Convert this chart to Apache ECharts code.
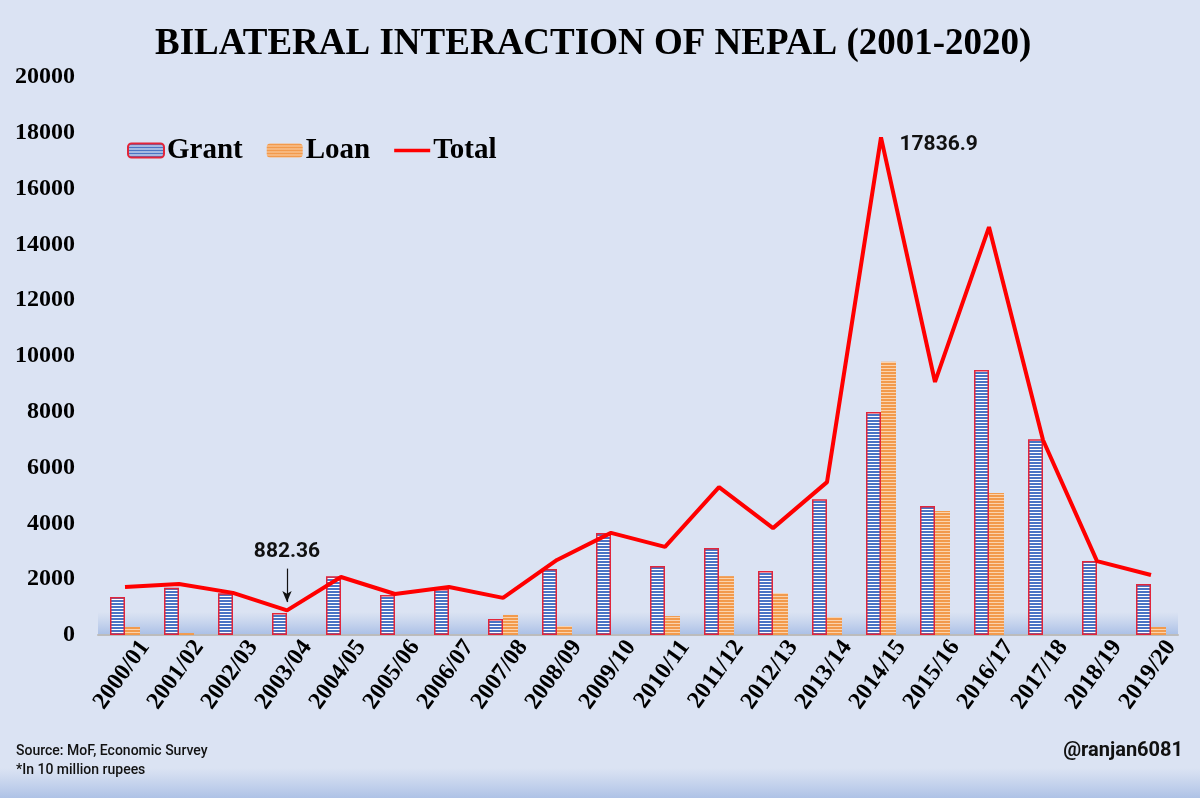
<!DOCTYPE html>
<html>
<head>
<meta charset="utf-8">
<script src="https://cdn.jsdelivr.net/npm/echarts@6/dist/echarts.min.js"></script>
<style>
  html, body { margin: 0; padding: 0; background: #dbe3f3; }
  #main { width: 1200px; height: 798px; }
</style>
</head>
<body>
<div id="main"></div>
<script>
// fiscal years
var years = ['2000/01', '2001/02', '2002/03', '2003/04', '2004/05', '2005/06', '2006/07', '2007/08', '2008/09', '2009/10',
  '2010/11', '2011/12', '2012/13', '2013/14', '2014/15', '2015/16', '2016/17', '2017/18', '2018/19', '2019/20'];
// in 10 million rupees
var grant = [1360, 1690, 1500, 790, 2110, 1430, 1650, 570, 2370, 3660, 2470, 3120, 2290, 4870, 7990, 4620, 9500, 7020, 2650, 1830];
var loan = [290, 70, 0, 0, 0, 0, 0, 720, 320, 0, 680, 2110, 1500, 640, 9790, 4440, 5090, 0, 0, 290];
var total = [1720, 1830, 1510, 882.36, 2080, 1470, 1720, 1330, 2690, 3660, 3160, 5300, 3830, 5480, 17836.9, 9070, 14620, 6990, 2650, 2150];

function stripes(bg, line) {
  var c = document.createElement('canvas');
  c.width = 4; c.height = 3;
  var ctx = c.getContext('2d');
  ctx.fillStyle = bg;
  ctx.fillRect(0, 0, 4, 3);
  ctx.fillStyle = line;
  ctx.fillRect(0, 0, 4, 2);
  return c;
}
var grantFill = { image: stripes('#ffffff', '#4a74c4'), repeat: 'repeat' };
var loanFill = { image: stripes('#fbd3ad', '#f29a4c'), repeat: 'repeat' };

var chart = echarts.init(document.getElementById('main'));

var option = {
  backgroundColor: '#dbe3f3',
  animation: false,
  title: {
    text: 'BILATERAL INTERACTION OF NEPAL (2001-2020)',
    left: 150,
    top: 21,
    textStyle: {
      fontFamily: 'Liberation Serif',
      fontWeight: 'bold',
      fontSize: 37,
      color: '#000'
    }
  },
  legend: {
    left: 122,
    top: 131,
    itemWidth: 36,
    itemHeight: 14,
    itemGap: 24,
    textStyle: {
      fontFamily: 'Liberation Serif',
      fontWeight: 'bold',
      fontSize: 29,
      color: '#000',
      padding: [0, 0, 0, -2]
    },
    data: ['Grant', 'Loan', { name: 'Total', icon: 'path://M0 0H40V4H0z' }]
  },
  grid: [
    { left: 98, right: 22, top: 77, bottom: 163 },
    // same scale shifted right, only carries the slanted year labels
    { left: 118, right: 2, top: 77, bottom: 163 }
  ],
  xAxis: [
    {
      type: 'category',
      data: years,
      axisLine: { lineStyle: { color: '#bcbcbc', width: 2 } },
      axisTick: { show: false },
      axisLabel: { show: false }
    },
    {
      type: 'category',
      gridIndex: 1,
      data: years,
      axisLine: { show: false },
      axisTick: { show: false },
      axisLabel: {
        rotate: 54,
        margin: 8,
        fontFamily: 'Liberation Serif',
        fontWeight: 'bold',
        fontSize: 24,
        color: '#000'
      }
    }
  ],
  yAxis: [
    {
      type: 'value',
      min: 0,
      max: 20000,
      interval: 2000,
      splitLine: { show: false },
      axisLine: { show: false },
      axisTick: { show: false },
      axisLabel: {
        margin: 23,
        fontFamily: 'Liberation Serif',
        fontWeight: 'bold',
        fontSize: 24,
        color: '#000',
        formatter: function (v) { return String(v); }
      }
    },
    {
      type: 'value',
      gridIndex: 1,
      min: 0,
      max: 20000,
      show: false
    }
  ],
  graphic: [
    {
      type: 'rect', z: -1, silent: true,
      shape: { x: 98, y: 612, width: 1080, height: 23 },
      style: {
        fill: new echarts.graphic.LinearGradient(0, 0, 0, 1, [
          { offset: 0, color: 'rgba(180,198,231,0)' },
          { offset: 1, color: '#a9bfe6' }
        ])
      }
    },
    {
      type: 'rect', z: -1, silent: true,
      shape: { x: 0, y: 768, width: 1200, height: 30 },
      style: {
        fill: new echarts.graphic.LinearGradient(0, 0, 0, 1, [
          { offset: 0, color: 'rgba(180,198,231,0)' },
          { offset: 1, color: '#aec2e6' }
        ])
      }
    },
    {
      type: 'text', left: 16, top: 742,
      style: {
        text: 'Source: MoF, Economic Survey\n*In 10 million rupees',
        fontFamily: 'Roboto', fontSize: 14, fontWeight: 500, lineHeight: 19, fill: '#111'
      }
    },
    {
      type: 'text', right: 17, top: 741,
      style: {
        text: '@ranjan6081',
        fontFamily: 'Roboto', fontSize: 20, fontWeight: 'bold', fill: '#111'
      }
    }
  ],
  series: [
    {
      name: 'Grant',
      type: 'bar',
      data: grant,
      barWidth: 15,
      barGap: '0%',
      itemStyle: { color: grantFill, borderColor: '#e2253a', borderWidth: 1.5 }
    },
    {
      name: 'Loan',
      type: 'bar',
      data: loan,
      barWidth: 15,
      itemStyle: { color: loanFill }
    },
    {
      name: 'Total',
      type: 'line',
      data: total,
      symbol: 'none',
      z: 5,
      lineStyle: { color: '#ff0000', width: 4 },
      itemStyle: { color: '#ff0000' },
      markPoint: {
        silent: true,
        symbol: 'circle',
        symbolSize: 1,
        itemStyle: { color: 'rgba(0,0,0,0)' },
        label: {
          show: true, position: 'right', distance: 18, offset: [0, 7],
          formatter: '17836.9',
          fontFamily: 'Roboto', fontWeight: 'bold', fontSize: 21, color: '#111'
        },
        data: [{ coord: [14, 17836.9] }]
      },
      markLine: {
        silent: true,
        symbol: ['none', 'arrow'],
        symbolSize: [7, 11],
        lineStyle: { color: '#111', width: 1.2, type: 'solid' },
        label: {
          show: true, position: 'start', distance: 6,
          formatter: '882.36',
          fontFamily: 'Roboto', fontWeight: 'bold', fontSize: 21, color: '#111'
        },
        data: [[{ coord: [3, 2380] }, { coord: [3, 1180] }]]
      }
    }
  ]
};

chart.setOption(option);
</script>
</body>
</html>
